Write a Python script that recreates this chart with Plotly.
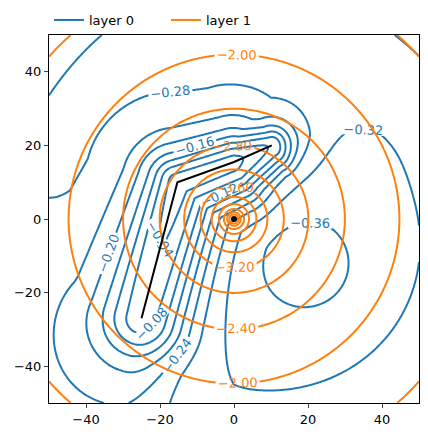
import numpy as np
import plotly.graph_objects as go

# ---------------- data / model parameters ----------------
# layer 1 (orange): logarithmic radial field centred at origin
layer1_offset = 5.8
layer1_levels = [-5.6, -1.6, 0.4]      # start, end, step

# layer 0 (blue): ridge along a path + background + dips
ridge_x = [-29.0, -25.0, -15.3, 0.0, 10.2, 13.0]
ridge_y = [-42.0, -27.0, 10.0, 15.5, 20.0, 21.0]
ridge_h = [0.05, 0.26, 0.30, 0.30, 0.24, 0.10]     # ridge height
ridge_c_out = [6.0, 12.5, 8.5, 7.5, 5.5, 3.5]       # outer-side width
ridge_s_in = [10.0, 9.0, 9.0, 8.0, 5.5, 3.0]        # inner-side width
bg_level = -0.31
bg_slope = 0.0012
bg_r0 = 45.0
dip_x = [19, 19, 32]
dip_y = [-12, -12, 20]
dip_amp = [-0.04, -0.03, -0.015]
dip_sigma = [24, 10, 8]
layer0_levels = [-0.40, -0.04, 0.04]

# black trajectory and marker
traj_x = [-25, -15.3, 0, 10.2]
traj_y = [-27, 10, 15.5, 20]
marker_x = [0]
marker_y = [0]

tick_vals = [-40, -20, 0, 20, 40]
BLUE = "#1f77b4"
ORANGE = "#ff7f0e"

# ---------------- grid ----------------
xs = np.linspace(-50, 50, 201)
ys = np.linspace(-50, 50, 201)
X, Y = np.meshgrid(xs, ys)

R = np.sqrt(X**2 + Y**2 + 1e-6)
Z1 = np.log(R) - layer1_offset

ridge = np.zeros_like(X)
for i in range(len(ridge_x) - 1):
    x0, y0 = ridge_x[i], ridge_y[i]
    x1, y1 = ridge_x[i + 1], ridge_y[i + 1]
    dx, dy = x1 - x0, y1 - y0
    L = np.hypot(dx, dy)
    ux, uy = dx / L, dy / L
    vx, vy = X - x0, Y - y0
    t = vx * ux + vy * uy
    tc = np.clip(t, 0, L)
    along = t - tc
    perp = vx * uy - vy * ux          # positive on right-hand (inner) side
    f = tc / L
    h = ridge_h[i] + f * (ridge_h[i + 1] - ridge_h[i])
    c = ridge_c_out[i] + f * (ridge_c_out[i + 1] - ridge_c_out[i])
    s = ridge_s_in[i] + f * (ridge_s_in[i + 1] - ridge_s_in[i])
    k_out = 1.0 / (1 + (along**2 + perp**2) / c**2)
    k_in = np.exp(-perp**2 / (2 * s**2)) / (1 + along**2 / c**2)
    k = np.where(perp > 0, k_in, k_out)
    ridge = np.maximum(ridge, h * k)

bg = bg_level + bg_slope * np.clip(R - bg_r0, 0, None)
dip = np.zeros_like(X)
for cx, cy, a, sg in zip(dip_x, dip_y, dip_amp, dip_sigma):
    dip += a * np.exp(-((X - cx) ** 2 + (Y - cy) ** 2) / (2 * sg**2))
Z0 = bg + ridge + dip

fig = go.Figure()


def contour(z, color, lv):
    return go.Contour(
        x=xs, y=ys, z=z,
        contours=dict(start=lv[0], end=lv[1], size=lv[2], coloring="lines",
                      showlabels=True, labelformat=".2f",
                      labelfont=dict(size=13, color=color, family="DejaVu Sans")),
        colorscale=[[0, color], [1, color]],
        line=dict(width=2),
        showscale=False,
        hoverinfo="skip",
        showlegend=False,
    )


fig.add_trace(contour(Z0, BLUE, layer0_levels))
fig.add_trace(contour(Z1, ORANGE, layer1_levels))
fig.add_trace(go.Scatter(x=traj_x, y=traj_y, mode="lines",
                         line=dict(color="black", width=2), showlegend=False))
fig.add_trace(go.Scatter(x=marker_x, y=marker_y, mode="markers",
                         marker=dict(color="black", size=6), showlegend=False))
fig.add_trace(go.Scatter(x=[None], y=[None], mode="lines", name="layer 0",
                         line=dict(color=BLUE, width=2)))
fig.add_trace(go.Scatter(x=[None], y=[None], mode="lines", name="layer 1",
                         line=dict(color=ORANGE, width=2)))

axis = dict(range=[-50, 50], tickvals=tick_vals, ticks="outside", ticklen=4,
            showline=True, mirror=True, linecolor="black", linewidth=1,
            showgrid=False, zeroline=False, automargin=False,
            tickfont=dict(size=13, color="black", family="DejaVu Sans"))
# page body adds an 8px offset, so the figure is 420x430 with reduced margins
fig.update_layout(
    width=420, height=430,
    margin=dict(l=41, r=9, t=27, b=35, autoexpand=False),
    plot_bgcolor="white", paper_bgcolor="white",
    xaxis=axis, yaxis=axis,
    legend=dict(orientation="h", x=0, xanchor="left", y=1.0, yanchor="bottom",
                entrywidth=72,
                font=dict(size=13, family="DejaVu Sans", color="black"),
                bgcolor="rgba(0,0,0,0)"),
    font=dict(family="DejaVu Sans"),
)
fig.write_html("out.html")
